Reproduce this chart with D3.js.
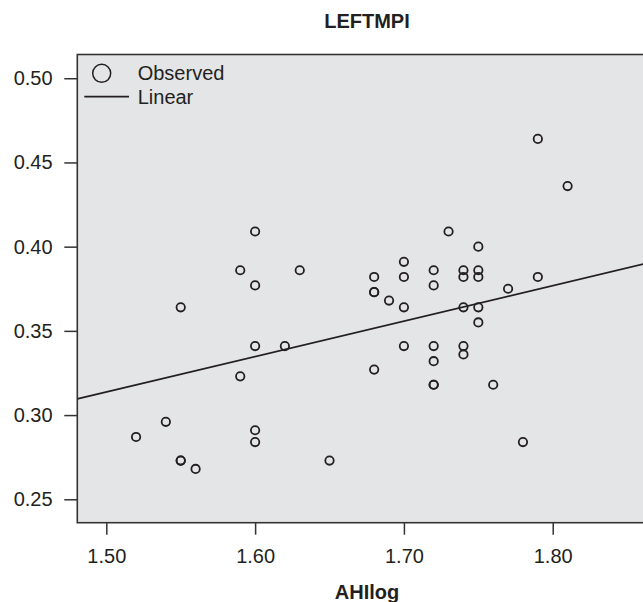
<!DOCTYPE html>
<html>
<head>
<meta charset="utf-8">
<script src="https://cdn.jsdelivr.net/npm/d3@7"></script>
<style>
  html, body { margin: 0; padding: 0; background: #fff; }
  svg { display: block; }
  text { font-family: "Liberation Sans", Arial, Helvetica, sans-serif; fill: #231f20; }
</style>
</head>
<body>
<svg id="chart" width="643" height="602"></svg>
<script>
// ---- data ----
const title = "LEFTMPI";
const xLabel = "AHIlog";
const xTicks = [1.50, 1.60, 1.70, 1.80];
const yTicks = [0.25, 0.30, 0.35, 0.40, 0.45, 0.50];
const legendLabels = ["Observed", "Linear"];
const ahiLog = [
  1.52, 1.54, 1.55, 1.55, 1.55, 1.56, 1.59, 1.60, 1.60, 1.60, 1.60, 1.60,
  1.59, 1.62, 1.63, 1.65, 1.79, 1.81, 1.73, 1.75, 1.70, 1.68, 1.70, 1.72,
  1.74, 1.75, 1.74, 1.75, 1.72, 1.79, 1.68, 1.68, 1.69, 1.77, 1.70, 1.74,
  1.75, 1.75, 1.70, 1.72, 1.74, 1.74, 1.72, 1.68, 1.72, 1.72, 1.76, 1.78
];
const leftMpi = [
  0.287, 0.296, 0.364, 0.273, 0.273, 0.268, 0.386, 0.409, 0.377, 0.341, 0.291, 0.284,
  0.323, 0.341, 0.386, 0.273, 0.464, 0.436, 0.409, 0.400, 0.391, 0.382, 0.382, 0.386,
  0.386, 0.386, 0.382, 0.382, 0.377, 0.382, 0.373, 0.373, 0.368, 0.375, 0.364, 0.364,
  0.364, 0.355, 0.341, 0.341, 0.341, 0.336, 0.332, 0.327, 0.318, 0.318, 0.318, 0.284
];
const fitIntercept = [-0.0019];
const fitSlope = [0.2104];

// ---- layout ----
const W = 643, H = 602;
const L = 77.3, R = 650, T = 54.5, B = 522.7;
const svg = d3.select("#chart");

const x = d3.scaleLinear().domain([1.4805, 1.8653]).range([L, L + (1.8653 - 1.4805) * 1488]);
const y = d3.scaleLinear().domain([0.2361, 0.5141]).range([B, T]);

// plot background + frame
svg.append("rect")
  .attr("x", L).attr("y", T).attr("width", R - L).attr("height", B - T)
  .attr("fill", "#e4e5e7").attr("stroke", "#333333").attr("stroke-width", 1.6);

// axes
const xAxis = d3.axisBottom(x).tickValues(xTicks).tickFormat(d3.format(".2f"))
  .tickSize(12).tickPadding(14);
const gx = svg.append("g").attr("transform", `translate(0,${B})`).call(xAxis);
gx.select(".domain").remove();
gx.selectAll(".tick line").attr("stroke", "#333333").attr("stroke-width", 1.5);
gx.selectAll(".tick text").attr("font-size", 20).attr("fill", "#231f20")
  .attr("font-family", "Liberation Sans, Arial, sans-serif");

const yAxis = d3.axisLeft(y).tickValues(yTicks).tickFormat(d3.format(".2f"))
  .tickSize(13).tickPadding(11.7);
const gy = svg.append("g").attr("transform", `translate(${L},0)`).call(yAxis);
gy.select(".domain").remove();
gy.selectAll(".tick line").attr("stroke", "#333333").attr("stroke-width", 1.5);
gy.selectAll(".tick text").attr("font-size", 20).attr("fill", "#231f20")
  .attr("font-family", "Liberation Sans, Arial, sans-serif");

// clip for plot contents
svg.append("clipPath").attr("id", "clip")
  .append("rect").attr("x", L).attr("y", T).attr("width", R - L).attr("height", B - T);
const plot = svg.append("g").attr("clip-path", "url(#clip)");

// regression line
const xd = x.domain();
plot.append("line")
  .attr("x1", x(xd[0])).attr("y1", y(fitIntercept[0] + fitSlope[0] * xd[0]))
  .attr("x2", x(xd[1])).attr("y2", y(fitIntercept[0] + fitSlope[0] * xd[1]))
  .attr("stroke", "#231f20").attr("stroke-width", 1.7);

// points
const pts = ahiLog.map((v, i) => ({ x: v, y: leftMpi[i] }));
plot.selectAll("circle.pt").data(pts).enter().append("circle")
  .attr("class", "pt")
  .attr("cx", d => x(d.x)).attr("cy", d => y(d.y)).attr("r", 4.2)
  .attr("fill", "none").attr("stroke", "#231f20").attr("stroke-width", 1.8);

// legend
const lg = svg.append("g");
lg.append("circle").attr("cx", 101.7).attr("cy", 73.3).attr("r", 9)
  .attr("fill", "none").attr("stroke", "#231f20").attr("stroke-width", 1.5);
lg.append("text").attr("x", 137.7).attr("y", 80).attr("font-size", 20).text(legendLabels[0]);
lg.append("line").attr("x1", 84.3).attr("x2", 129).attr("y1", 96.7).attr("y2", 96.7)
  .attr("stroke", "#231f20").attr("stroke-width", 1.7);
lg.append("text").attr("x", 137.7).attr("y", 104).attr("font-size", 20).text(legendLabels[1]);

// titles
svg.append("text").attr("x", 367).attr("y", 28).attr("text-anchor", "middle")
  .attr("font-size", 20).attr("font-weight", "bold").text(title);
svg.append("text").attr("x", 367).attr("y", 599).attr("text-anchor", "middle")
  .attr("font-size", 20).attr("font-weight", "bold").text(xLabel);
</script>
</body>
</html>
